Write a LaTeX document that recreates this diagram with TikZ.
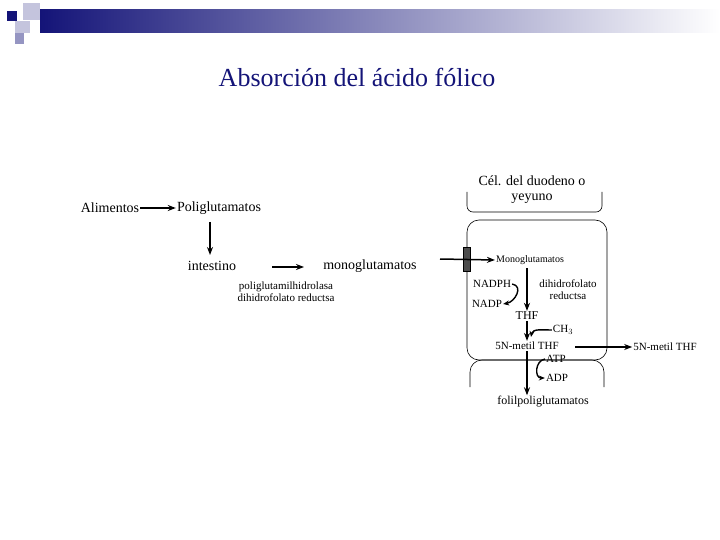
\documentclass[tikz,border=0pt]{standalone}
\usepackage{fontspec}
\setmainfont{Liberation Serif}
\usetikzlibrary{arrows.meta}
\definecolor{navy}{RGB}{20,20,120}
\begin{document}
\begin{tikzpicture}[x=1pt,y=-1pt,
  lbl/.style={font=\fontsize{14}{15}\selectfont,inner sep=1pt},
  sm/.style={font=\fontsize{11}{12}\selectfont,inner sep=1pt,align=center},
  arr/.style={-{Stealth[length=8pt,width=6pt]},line width=1.5pt},
  carr/.style={-{Stealth[length=6pt,width=5pt]},line width=1.4pt},
  cell/.style={line width=0.6pt}]
\useasboundingbox (0,0) rectangle (720,540);
% banner
\shade[left color=navy,right color=white] (40,10) rectangle (720,33);
\fill[navy] (7,11) rectangle (17,21);
\fill[navy!25] (23,3) rectangle (40,20);
\fill[navy!25] (15,21) rectangle (30,33);
\fill[navy!45] (15,33) rectangle (24,44);
\node[font=\fontsize{26}{28}\selectfont,text=navy] (title) at (357,77) {Absorción del ácido fólico};
% left
\node[lbl] (ali) at (110,208) {Alimentos};
\node[lbl] (poli) at (219,208) {Poliglutamatos};
\node[lbl] (int) at (212,266) {intestino};
\node[lbl] (mono) at (370,266) {monoglutamatos};
\node[sm] (enz) at (286,292) {poliglutamilhidrolasa\\dihidrofolato reductsa};
\draw[arr] (ali) -- (poli);
\draw[arr] (210,222) coordinate (p1) -- (210,255) coordinate (p2);
\draw[arr] (272,267) coordinate (q1) -- (304,267) coordinate (q2);
% cell
\node[lbl,align=center] (cel) at (532,190) {Cél. del duodeno o\\yeyuno};
\draw[cell,rounded corners=6] (467,192) -- (467,212) -- (602,212) -- (602,192);
\draw[cell,rounded corners=12] (467,220) rectangle (607,360);
\draw[cell,rounded corners=12] (470,387) -- (470,360) -- (604,360) -- (604,387);
\fill[black!70] (463,247) rectangle (470,271);
\draw[black] (463,247) rectangle (470,271);
\node[sm,font=\fontsize{10}{11}\selectfont] (m2) at (530,260) {Monoglutamatos};
\coordinate (in) at (440,259);
\draw[arr] (in) -- (m2.west);
\node[sm] (dr) at (568,290) {dihidrofolato\\reductsa};
\node[sm] (nadph) at (492,284) {NADPH};
\node[sm] (nadp) at (487,304) {NADP};
\draw[carr] (nadph.east) to[out=-10,in=10,looseness=1.4] (nadp.east);
\node[lbl,font=\fontsize{12}{13}\selectfont] (thf) at (527,316) {THF};
\draw[arr] (527,268) -- (thf.north);
\node[sm] (ch3) at (563,330) {CH$_3$};
\node[sm] (met) at (527,346) {5N-metil THF};
\draw[arr] (thf.south) -- (met.north);
\draw[carr] (ch3.west) to[out=180,in=80] (531,337);
\node[sm] (met2) at (665,347) {5N-metil THF};
\draw[arr] (575,347) -- (met2.west);
\node[sm] (atp) at (556,359) {ATP};
\node[sm] (adp) at (557,378) {ADP};
\draw[carr] (atp.west) to[out=190,in=180,looseness=1.4] (adp.west);
\node[sm,font=\fontsize{12}{13}\selectfont] (fol) at (543,402) {folilpoliglutamatos};
\draw[arr] (met.south) -- (fol.north -| met);
\end{tikzpicture}
\end{document}
